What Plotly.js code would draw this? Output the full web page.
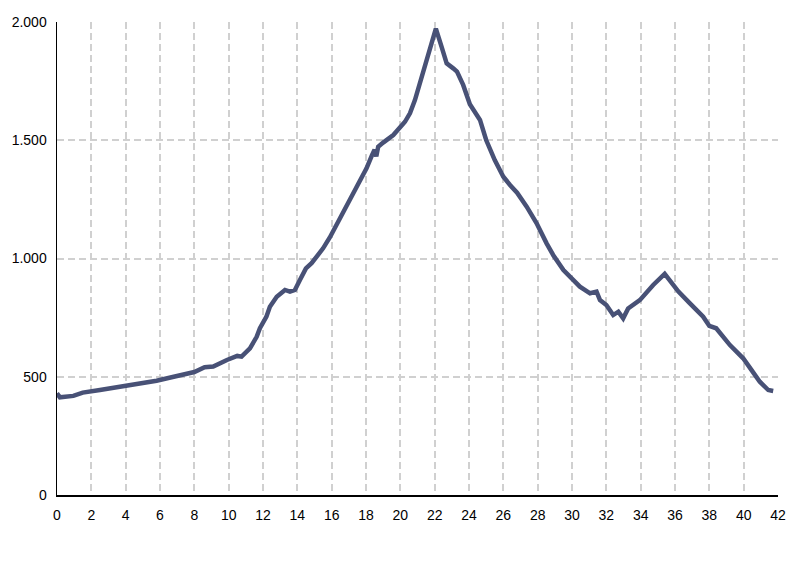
<!DOCTYPE html>
<html>
<head>
<meta charset="utf-8">
<script src="https://cdn.plot.ly/plotly-3.0.1.min.js"></script>
<style>html,body{margin:0;padding:0;background:#fff;}#chart{width:800px;height:566px;}</style>
</head>
<body>
<div id="chart"></div>
<script>
var xValues = [0, 0.17, 0.95, 1.5, 2.5, 3.1, 3.9, 4.8, 5.8, 6.8, 7.55, 8.0, 8.6, 9.1, 9.9, 10.5, 10.75, 11.24, 11.63, 11.82, 12.2, 12.4, 12.8, 13.28, 13.57, 13.86, 14.15, 14.5, 14.83, 15.5, 15.9, 16.58, 17.07, 17.55, 18.03, 18.35, 18.5, 18.6, 18.71, 19.0, 19.59, 20.27, 20.56, 20.85, 21.14, 21.53, 21.7, 22.07, 22.4, 22.7, 23.08, 23.3, 23.66, 24.05, 24.64, 25.0, 25.5, 26.0, 26.4, 26.8, 27.36, 27.94, 28.52, 28.9, 29.5, 29.88, 30.46, 31.05, 31.43, 31.63, 32.0, 32.4, 32.7, 32.98, 33.27, 33.95, 34.73, 35.4, 35.9, 36.2, 36.87, 37.64, 38.0, 38.4, 39.2, 39.97, 40.46, 40.94, 41.43, 41.72];
var yValues = [430, 413, 419, 433, 444, 451, 465, 475, 483, 500, 512, 520, 540, 543, 571, 588, 585, 620, 669, 705, 754, 796, 838, 867, 860, 867, 909, 958, 980, 1043, 1090, 1184, 1247, 1311, 1381, 1437, 1460, 1432, 1473, 1490, 1522, 1578, 1614, 1670, 1741, 1846, 1874, 1972, 1896, 1825, 1804, 1790, 1734, 1652, 1586, 1501, 1416, 1346, 1310, 1278, 1219, 1149, 1064, 1015, 951, 923, 881, 853, 860, 824, 803, 761, 775, 747, 789, 824, 888, 935, 888, 860, 810, 754, 715, 705, 634, 578, 528, 479, 444, 440];
var xTickVals = [0,2,4,6,8,10,12,14,16,18,20,22,24,26,28,30,32,34,36,38,40,42];
var yTickVals = [0, 500, 1000, 1500, 2000];
var yTickText = ['0', '500', '1.000', '1.500', '2.000'];

var trace = {
  x: xValues, y: yValues, type: 'scatter', mode: 'lines',
  line: {color: '#485176', width: 4.5},
  hoverinfo: 'none'
};
var layout = {
  width: 800, height: 566,
  margin: {l: 57, r: 22, t: 22, b: 71},
  paper_bgcolor: '#fff', plot_bgcolor: '#fff',
  showlegend: false,
  font: {family: 'Liberation Sans, Arial, sans-serif', size: 14, color: '#000'},
  xaxis: {
    range: [0, 42], tickmode: 'array', tickvals: xTickVals,
    showgrid: true, gridcolor: '#d0d0d0', gridwidth: 2, griddash: '7px,4px',
    showline: true, linecolor: '#000', linewidth: 2, zeroline: false,
    ticks: '', ticklabelstandoff: 6, fixedrange: true
  },
  yaxis: {
    range: [0, 2000], tickmode: 'array', tickvals: yTickVals, ticktext: yTickText,
    showgrid: true, gridcolor: '#d0d0d0', gridwidth: 2, griddash: '7px,4px',
    showline: true, linecolor: '#000', linewidth: 1.5, zeroline: false,
    ticks: '', ticklabelstandoff: 6, fixedrange: true
  }
};
Plotly.newPlot('chart', [trace], layout, {displayModeBar: false, staticPlot: true});
</script>
</body>
</html>
